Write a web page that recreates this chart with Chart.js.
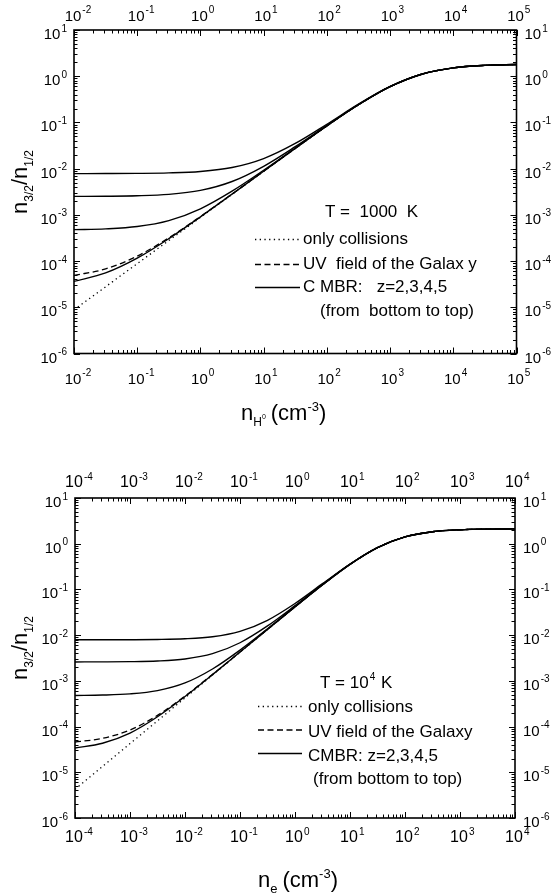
<!DOCTYPE html>
<html>
<head>
<meta charset="utf-8">
<script src="https://cdn.jsdelivr.net/npm/chart.js@4.4.0/dist/chart.umd.min.js"></script>
<style>
    body { margin: 0; background: #fff; }
    canvas { display: block; }
</style>
</head>
<body>
<canvas id="chartTop" width="551" height="447"></canvas>
<canvas id="chartBottom" width="551" height="447"></canvas>
<script>
// ---- T = 1000 K, collisions with H atoms ----
const nHydrogen = [0.01, 0.03162, 0.1, 0.3162, 1, 3.162, 10, 31.62, 100, 316.2, 1000, 3162, 10000, 31623, 100000];
const topCollisions = [8.8e-6, 2.78e-5, 8.8e-5, 2.78e-4, 8.79e-4, 2.78e-3, 8.76e-3, 2.74e-2, 8.39e-2, 0.2415, 0.594, 1.104, 1.515, 1.717, 1.793];
const topUV = [4.88e-5, 6.78e-5, 1.28e-4, 3.18e-4, 9.2e-4, 2.82e-3, 8.8e-3, 2.745e-2, 8.4e-2, 0.2416, 0.594, 1.104, 1.515, 1.717, 1.793];
const topZ2 = [3.63e-5, 5.53e-5, 1.155e-4, 3.055e-4, 9.07e-4, 2.805e-3, 8.78e-3, 2.744e-2, 8.4e-2, 0.2415, 0.594, 1.104, 1.515, 1.717, 1.793];
const topZ3 = [4.79e-4, 4.98e-4, 5.58e-4, 7.48e-4, 1.35e-3, 3.25e-3, 9.22e-3, 2.79e-2, 8.44e-2, 0.2419, 0.5943, 1.104, 1.515, 1.717, 1.793];
const topZ4 = [2.509e-3, 2.528e-3, 2.588e-3, 2.778e-3, 3.38e-3, 5.27e-3, 1.124e-2, 2.987e-2, 8.63e-2, 0.2437, 0.5957, 1.105, 1.515, 1.717, 1.793];
const topZ5 = [7.81e-3, 7.83e-3, 7.89e-3, 8.08e-3, 8.68e-3, 1.057e-2, 1.652e-2, 3.51e-2, 9.14e-2, 0.2483, 0.599, 1.107, 1.516, 1.717, 1.793];

// ---- T = 10^4 K, collisions with electrons ----
const nElectron = [1e-4, 3.162e-4, 1e-3, 3.162e-3, 0.01, 0.03162, 0.1, 0.3162, 1, 3.162, 10, 31.62, 100, 316.2, 1000, 3162, 10000];
const botCollisions = [4.24e-6, 1.341e-5, 4.24e-5, 1.341e-4, 4.24e-4, 1.34e-3, 4.232e-3, 1.332e-2, 4.157e-2, 0.1261, 0.3533, 0.8213, 1.413, 1.831, 2.019, 2.087, 2.109];
const botUV = [4.6e-5, 5.52e-5, 8.42e-5, 1.759e-4, 4.657e-4, 1.382e-3, 4.274e-3, 1.336e-2, 4.161e-2, 0.1261, 0.3533, 0.8213, 1.413, 1.831, 2.019, 2.087, 2.109];
const botZ2 = [3.4e-5, 4.32e-5, 7.22e-5, 1.639e-4, 4.537e-4, 1.37e-3, 4.262e-3, 1.335e-2, 4.16e-2, 0.1261, 0.3533, 0.8213, 1.413, 1.831, 2.019, 2.087, 2.109];
const botZ3 = [4.8e-4, 4.894e-4, 5.184e-4, 6.101e-4, 9.0e-4, 1.816e-3, 4.707e-3, 1.379e-2, 4.204e-2, 0.1265, 0.3537, 0.8216, 1.413, 1.831, 2.019, 2.087, 2.109];
const botZ4 = [2.594e-3, 2.603e-3, 2.632e-3, 2.724e-3, 3.014e-3, 3.928e-3, 6.817e-3, 1.589e-2, 4.411e-2, 0.1285, 0.3555, 0.8229, 1.414, 1.831, 2.019, 2.087, 2.109];
const botZ5 = [7.904e-3, 7.913e-3, 7.942e-3, 8.034e-3, 8.324e-3, 9.235e-3, 1.212e-2, 2.117e-2, 4.931e-2, 0.1335, 0.3599, 0.8261, 1.416, 1.832, 2.019, 2.087, 2.109];

// decade exponents used for tick labels
const topXExp = [-2, -1, 0, 1, 2, 3, 4, 5];
const botXExp = [-4, -3, -2, -1, 0, 1, 2, 3, 4];
const yExp = [-6, -5, -4, -3, -2, -1, 0, 1];

const FONT = "'Liberation Sans', Arial, sans-serif";

function toPoints(xs, ys) {
    return xs.map((x, i) => ({ x: x, y: ys[i] }));
}

function series(xs, ys, dash) {
    return {
        data: toPoints(xs, ys),
        borderColor: '#000',
        borderWidth: dash ? 1.3 : 1.4,
        borderDash: dash || [],
        pointRadius: 0,
        fill: false,
        cubicInterpolationMode: 'monotone'
    };
}

// draws a list of text pieces (with sub/superscripts) starting at x, baseline y
function runsWidth(ctx, runs) {
    let w = 0;
    runs.forEach((r) => {
        ctx.font = r.size + 'px ' + FONT;
        w += ctx.measureText(r.t).width + (r.gap || 0);
    });
    return w;
}

function drawRuns(ctx, runs, x, y) {
    let cx = x;
    runs.forEach((r) => {
        ctx.font = r.size + 'px ' + FONT;
        cx += r.pre || 0;
        ctx.fillText(r.t, cx, y + (r.dy || 0));
        cx += ctx.measureText(r.t).width + (r.gap || 0);
    });
}

// "10" with a raised exponent
function drawPower(ctx, exp, x, y, align, size, supSize) {
    ctx.font = size + 'px ' + FONT;
    const wBase = ctx.measureText('10').width;
    ctx.font = supSize + 'px ' + FONT;
    const wSup = ctx.measureText(String(exp)).width;
    let x0 = x;
    if (align === 'center') x0 = x - wBase / 2;
    if (align === 'right') x0 = x - wBase - 1 - wSup;
    ctx.font = size + 'px ' + FONT;
    ctx.fillText('10', x0, y);
    ctx.font = supSize + 'px ' + FONT;
    ctx.fillText(String(exp), x0 + wBase + 1, y - 7.5);
}

function framePlugin(cfg) {
    return {
        id: 'frame_' + cfg.name,
        afterDraw(chart) {
            const ctx = chart.ctx;
            const a = chart.chartArea;
            const xs = chart.scales.x;
            const ys = chart.scales.y;
            ctx.save();
            ctx.fillStyle = '#000';
            ctx.strokeStyle = '#000';
            ctx.textBaseline = 'alphabetic';
            ctx.textAlign = 'left';

            // frame
            ctx.lineWidth = 1.6;
            ctx.strokeRect(a.left, a.top, a.right - a.left, a.bottom - a.top);

            // ticks on all four sides, pointing inward
            ctx.lineWidth = 1;
            ctx.beginPath();
            const xe = cfg.xExp;
            for (let i = 0; i < xe.length; i++) {
                for (let k = 1; k < 10; k++) {
                    if (k > 1 && i === xe.length - 1) break;
                    const px = Math.round(xs.getPixelForValue(k * Math.pow(10, xe[i]))) + 0.5;
                    const len = k === 1 ? 6 : 3.5;
                    ctx.moveTo(px, a.bottom); ctx.lineTo(px, a.bottom - len);
                    ctx.moveTo(px, a.top); ctx.lineTo(px, a.top + len);
                }
            }
            for (let i = 0; i < yExp.length; i++) {
                for (let k = 1; k < 10; k++) {
                    if (k > 1 && i === yExp.length - 1) break;
                    const py = Math.round(ys.getPixelForValue(k * Math.pow(10, yExp[i]))) + 0.5;
                    const len = k === 1 ? 6 : 3.5;
                    ctx.moveTo(a.left, py); ctx.lineTo(a.left + len, py);
                    ctx.moveTo(a.right, py); ctx.lineTo(a.right - len, py);
                }
            }
            ctx.stroke();

            // tick labels
            xe.forEach((e) => {
                const px = xs.getPixelForValue(Math.pow(10, e));
                drawPower(ctx, e, px - 1, a.top - cfg.topGap, 'center', cfg.topSize, cfg.supSize);
                drawPower(ctx, e, px - 1, a.bottom + cfg.bottomGap, 'center', cfg.xSize, cfg.supSize);
            });
            yExp.forEach((e) => {
                const py = ys.getPixelForValue(Math.pow(10, e));
                drawPower(ctx, e, a.left - 7, py + 9, 'right', cfg.ySize, cfg.supSize);
                drawPower(ctx, e, a.right + 8, py + 9, 'left', cfg.ySize, cfg.supSize);
            });

            // y axis title, rotated
            const yRuns = [
                { t: 'n', size: 22 },
                { t: '3/2', size: 12, dy: 6 },
                { t: '/n', size: 22 },
                { t: '1/2', size: 12, dy: 6 }
            ];
            const yw = runsWidth(ctx, yRuns);
            ctx.save();
            ctx.translate(cfg.yTitleX, cfg.yTitleY);
            ctx.rotate(-Math.PI / 2);
            drawRuns(ctx, yRuns, -yw / 2, 0);
            ctx.restore();

            // x axis title
            drawRuns(ctx, cfg.xTitle, cfg.xTitleX, cfg.xTitleY);

            // legend keys
            ctx.lineWidth = 1.3;
            cfg.keys.forEach((k) => {
                ctx.setLineDash(k.dash);
                ctx.beginPath();
                ctx.moveTo(k.x1, k.y);
                ctx.lineTo(k.x2, k.y);
                ctx.stroke();
            });
            ctx.setLineDash([]);

            // annotation text
            cfg.notes.forEach((n) => drawRuns(ctx, n.runs, n.x, n.y));
            ctx.restore();
        }
    };
}

function makeChart(id, xs, sets, xMin, xMax, padding, cfg) {
    return new Chart(document.getElementById(id), {
        type: 'line',
        data: {
            datasets: [
                series(xs, sets[0], [1.3, 3.4]),
                series(xs, sets[1], [6, 3.5]),
                series(xs, sets[2]),
                series(xs, sets[3]),
                series(xs, sets[4]),
                series(xs, sets[5])
            ]
        },
        options: {
            responsive: false,
            animation: false,
            layout: { padding: padding },
            plugins: {
                legend: { display: false },
                tooltip: { enabled: false }
            },
            scales: {
                x: { type: 'logarithmic', min: xMin, max: xMax, display: false },
                y: { type: 'logarithmic', min: 1e-6, max: 10, display: false }
            }
        },
        plugins: [framePlugin(cfg)]
    });
}

const NOTE = 17;

makeChart('chartTop', nHydrogen, [topCollisions, topUV, topZ2, topZ3, topZ4, topZ5], 1e-2, 1e5,
    { left: 74, right: 34.5, top: 30, bottom: 93.5 },
    {
        name: 'top',
        xExp: topXExp,
        topSize: 15, xSize: 15, ySize: 15, supSize: 10,
        topGap: 9.5, bottomGap: 30,
        yTitleX: 27, yTitleY: 182,
        xTitleX: 241, xTitleY: 420,
        xTitle: [
            { t: 'n', size: 22 },
            { t: 'H', size: 12, dy: 6 },
            { t: '0', size: 7, dy: -1, gap: 5 },
            { t: '(cm', size: 22 },
            { t: '-3', size: 13, dy: -9 },
            { t: ')', size: 22 }
        ],
        keys: [
            { x1: 255, x2: 300, y: 239.5, dash: [1.3, 3.4] },
            { x1: 255, x2: 300, y: 264.5, dash: [6, 3.5] },
            { x1: 255, x2: 300, y: 287.5, dash: [] }
        ],
        notes: [
            { x: 325, y: 216.5, runs: [{ t: 'T =  1000  K', size: NOTE }] },
            { x: 303, y: 243.5, runs: [{ t: 'only collisions', size: NOTE }] },
            { x: 303, y: 269, runs: [{ t: 'UV  field of the Galax y', size: NOTE }] },
            { x: 303, y: 292, runs: [{ t: 'C MBR:   z=2,3,4,5', size: NOTE }] },
            { x: 320, y: 315.5, runs: [{ t: '(from  bottom to top)', size: NOTE }] }
        ]
    });

makeChart('chartBottom', nElectron, [botCollisions, botUV, botZ2, botZ3, botZ4, botZ5], 1e-4, 1e4,
    { left: 75, right: 36, top: 51, bottom: 76 },
    {
        name: 'bottom',
        xExp: botXExp,
        topSize: 16, xSize: 16, ySize: 15, supSize: 10,
        topGap: 11, bottomGap: 24,
        yTitleX: 27, yTitleY: 201,
        xTitleX: 258, xTitleY: 440,
        xTitle: [
            { t: 'n', size: 22 },
            { t: 'e', size: 13, dy: 6, gap: 5 },
            { t: '(cm', size: 22 },
            { t: '-3', size: 13, dy: -9 },
            { t: ')', size: 22 }
        ],
        keys: [
            { x1: 258, x2: 302, y: 259.5, dash: [1.3, 3.4] },
            { x1: 258, x2: 302, y: 283, dash: [6, 3.5] },
            { x1: 258, x2: 302, y: 306.5, dash: [] }
        ],
        notes: [
            { x: 320, y: 241, runs: [{ t: 'T = 10', size: NOTE }, { t: '4', size: 10, dy: -8, pre: 1, gap: 1 }, { t: ' K', size: NOTE }] },
            { x: 308, y: 264.5, runs: [{ t: 'only collisions', size: NOTE }] },
            { x: 308, y: 289.5, runs: [{ t: 'UV field of the Galaxy', size: NOTE }] },
            { x: 308, y: 313.5, runs: [{ t: 'CMBR: z=2,3,4,5', size: NOTE }] },
            { x: 313, y: 336.5, runs: [{ t: '(from bottom to top)', size: NOTE }] }
        ]
    });
</script>
</body>
</html>
